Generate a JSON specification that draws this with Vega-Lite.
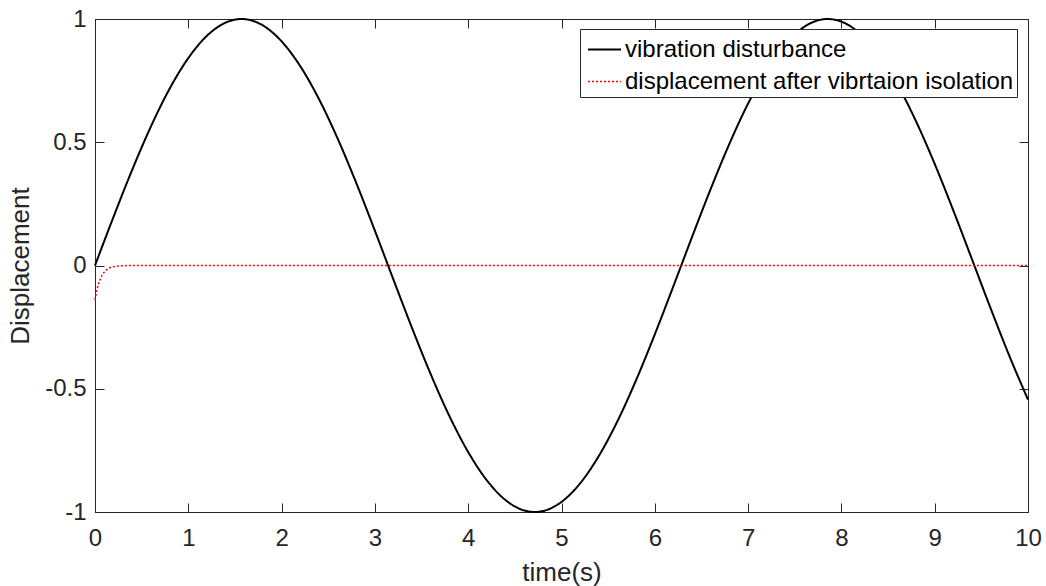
{
  "$schema": "https://vega.github.io/schema/vega-lite/v6.json",
  "autosize": {"type": "none"},
  "width": 933,
  "height": 493,
  "padding": {"left": 95, "top": 19, "right": 18, "bottom": 74},
  "background": "white",
  "config": {
    "view": {"stroke": "#262626", "strokeWidth": 1},
    "font": "Liberation Sans",
    "axis": {
      "grid": false,
      "domainColor": "#262626",
      "tickColor": "#262626",
      "labelColor": "#262626",
      "titleColor": "#262626",
      "labelFont": "Liberation Sans",
      "titleFont": "Liberation Sans",
      "labelFontSize": 24,
      "titleFontSize": 26,
      "titleFontWeight": "normal",
      "labelFlush": false,
      "labelOverlap": false,
      "domainWidth": 1,
      "tickWidth": 1
    },
    "legend": {
      "labelFont": "Liberation Sans",
      "labelFontSize": 24,
      "labelColor": "#000000"
    }
  },
  "data": {
    "values": [
      {"t": 0, "y": 0, "s": "vibration disturbance"},
      {"t": 0.2, "y": 0.1987, "s": "vibration disturbance"},
      {"t": 0.4, "y": 0.3894, "s": "vibration disturbance"},
      {"t": 0.6, "y": 0.5646, "s": "vibration disturbance"},
      {"t": 0.8, "y": 0.7174, "s": "vibration disturbance"},
      {"t": 1.0, "y": 0.8415, "s": "vibration disturbance"},
      {"t": 1.2, "y": 0.932, "s": "vibration disturbance"},
      {"t": 1.4, "y": 0.9854, "s": "vibration disturbance"},
      {"t": 1.57, "y": 1.0, "s": "vibration disturbance"},
      {"t": 1.8, "y": 0.9738, "s": "vibration disturbance"},
      {"t": 2.0, "y": 0.9093, "s": "vibration disturbance"},
      {"t": 2.2, "y": 0.8085, "s": "vibration disturbance"},
      {"t": 2.4, "y": 0.6755, "s": "vibration disturbance"},
      {"t": 2.6, "y": 0.5155, "s": "vibration disturbance"},
      {"t": 2.8, "y": 0.335, "s": "vibration disturbance"},
      {"t": 3.0, "y": 0.1411, "s": "vibration disturbance"},
      {"t": 3.2, "y": -0.0584, "s": "vibration disturbance"},
      {"t": 3.4, "y": -0.2555, "s": "vibration disturbance"},
      {"t": 3.6, "y": -0.4425, "s": "vibration disturbance"},
      {"t": 3.8, "y": -0.6119, "s": "vibration disturbance"},
      {"t": 4.0, "y": -0.7568, "s": "vibration disturbance"},
      {"t": 4.2, "y": -0.8716, "s": "vibration disturbance"},
      {"t": 4.4, "y": -0.9516, "s": "vibration disturbance"},
      {"t": 4.6, "y": -0.9937, "s": "vibration disturbance"},
      {"t": 4.71, "y": -1.0, "s": "vibration disturbance"},
      {"t": 4.8, "y": -0.9962, "s": "vibration disturbance"},
      {"t": 5.0, "y": -0.9589, "s": "vibration disturbance"},
      {"t": 5.2, "y": -0.8835, "s": "vibration disturbance"},
      {"t": 5.4, "y": -0.7728, "s": "vibration disturbance"},
      {"t": 5.6, "y": -0.6313, "s": "vibration disturbance"},
      {"t": 5.8, "y": -0.4646, "s": "vibration disturbance"},
      {"t": 6.0, "y": -0.2794, "s": "vibration disturbance"},
      {"t": 6.2, "y": -0.0831, "s": "vibration disturbance"},
      {"t": 6.4, "y": 0.1165, "s": "vibration disturbance"},
      {"t": 6.6, "y": 0.3115, "s": "vibration disturbance"},
      {"t": 6.8, "y": 0.4941, "s": "vibration disturbance"},
      {"t": 7.0, "y": 0.657, "s": "vibration disturbance"},
      {"t": 7.2, "y": 0.7937, "s": "vibration disturbance"},
      {"t": 7.4, "y": 0.8987, "s": "vibration disturbance"},
      {"t": 7.6, "y": 0.9679, "s": "vibration disturbance"},
      {"t": 7.85, "y": 1.0, "s": "vibration disturbance"},
      {"t": 8.0, "y": 0.9894, "s": "vibration disturbance"},
      {"t": 8.2, "y": 0.9407, "s": "vibration disturbance"},
      {"t": 8.4, "y": 0.8546, "s": "vibration disturbance"},
      {"t": 8.6, "y": 0.7344, "s": "vibration disturbance"},
      {"t": 8.8, "y": 0.5849, "s": "vibration disturbance"},
      {"t": 9.0, "y": 0.4121, "s": "vibration disturbance"},
      {"t": 9.2, "y": 0.2229, "s": "vibration disturbance"},
      {"t": 9.4, "y": 0.0248, "s": "vibration disturbance"},
      {"t": 9.6, "y": -0.1743, "s": "vibration disturbance"},
      {"t": 9.8, "y": -0.3665, "s": "vibration disturbance"},
      {"t": 10.0, "y": -0.544, "s": "vibration disturbance"},
      {"t": 0, "y": -0.14, "s": "displacement after vibrtaion isolation"},
      {"t": 0.02, "y": -0.1, "s": "displacement after vibrtaion isolation"},
      {"t": 0.04, "y": -0.072, "s": "displacement after vibrtaion isolation"},
      {"t": 0.06, "y": -0.052, "s": "displacement after vibrtaion isolation"},
      {"t": 0.08, "y": -0.037, "s": "displacement after vibrtaion isolation"},
      {"t": 0.1, "y": -0.027, "s": "displacement after vibrtaion isolation"},
      {"t": 0.13, "y": -0.016, "s": "displacement after vibrtaion isolation"},
      {"t": 0.16, "y": -0.009, "s": "displacement after vibrtaion isolation"},
      {"t": 0.2, "y": -0.005, "s": "displacement after vibrtaion isolation"},
      {"t": 0.25, "y": -0.002, "s": "displacement after vibrtaion isolation"},
      {"t": 0.3, "y": -0.001, "s": "displacement after vibrtaion isolation"},
      {"t": 0.4, "y": 0, "s": "displacement after vibrtaion isolation"},
      {"t": 1, "y": 0, "s": "displacement after vibrtaion isolation"},
      {"t": 2, "y": 0, "s": "displacement after vibrtaion isolation"},
      {"t": 3, "y": 0, "s": "displacement after vibrtaion isolation"},
      {"t": 4, "y": 0, "s": "displacement after vibrtaion isolation"},
      {"t": 5, "y": 0, "s": "displacement after vibrtaion isolation"},
      {"t": 6, "y": 0, "s": "displacement after vibrtaion isolation"},
      {"t": 7, "y": 0, "s": "displacement after vibrtaion isolation"},
      {"t": 8, "y": 0, "s": "displacement after vibrtaion isolation"},
      {"t": 9, "y": 0, "s": "displacement after vibrtaion isolation"},
      {"t": 10, "y": 0, "s": "displacement after vibrtaion isolation"}
    ]
  },
  "layer": [
    {
      "mark": {"type": "line", "interpolate": "monotone"},
      "encoding": {
        "x": {
          "field": "t", "type": "quantitative",
          "scale": {"domain": [0, 10], "nice": false, "zero": false},
          "axis": {"values": [0,1,2,3,4,5,6,7,8,9,10], "title": "time(s)", "ticks": false, "labelPadding": 14, "titlePadding": 9, "orient": "bottom"}
        },
        "y": {
          "field": "y", "type": "quantitative",
          "scale": {"domain": [-1, 1], "nice": false, "zero": false},
          "axis": {"values": [-1, -0.5, 0, 0.5, 1], "title": "Displacement", "ticks": false, "labelPadding": 9, "titlePadding": 11, "orient": "left",
                   "format": "~g", "labelExpr": "replace(datum.label, '\u2212', '-')"}
        },
        "color": {
          "field": "s", "type": "nominal", "title": null,
          "scale": {"domain": ["vibration disturbance", "displacement after vibrtaion isolation"], "range": ["#000000", "#ff0000"]},
          "legend": {"orient": "none", "legendX": 485, "legendY": 10, "symbolType": "stroke", "symbolSize": 1089,
                     "strokeColor": "#262626", "fillColor": "white", "padding": 3, "symbolOffset": 4, "rowPadding": 2, "labelOffset": 3, "labelLimit": 600}
        },
        "strokeDash": {
          "field": "s", "type": "nominal", "title": null,
          "scale": {"domain": ["vibration disturbance", "displacement after vibrtaion isolation"], "range": [[1, 0], [2, 2]]}
        },
        "strokeWidth": {
          "field": "s", "type": "nominal", "title": null,
          "scale": {"domain": ["vibration disturbance", "displacement after vibrtaion isolation"], "range": [2, 1.5]}
        }
      }
    },
    {
      "mark": {"type": "line", "opacity": 0},
      "encoding": {
        "x": {
          "field": "t", "type": "quantitative",
          "axis": {"values": [0,1,2,3,4,5,6,7,8,9,10], "title": null, "labels": false, "domain": false, "tickSize": 9, "offset": -9, "orient": "top"}
        },
        "y": {
          "field": "y", "type": "quantitative",
          "axis": {"values": [-1, -0.5, 0, 0.5, 1], "title": null, "labels": false, "domain": false, "tickSize": 9, "offset": -9, "orient": "right"}
        }
      }
    },
    {
      "mark": {"type": "line", "opacity": 0},
      "encoding": {
        "x": {
          "field": "t", "type": "quantitative",
          "axis": {"values": [0,1,2,3,4,5,6,7,8,9,10], "title": null, "labels": false, "domain": false, "tickSize": 9, "offset": -9, "orient": "bottom"}
        },
        "y": {
          "field": "y", "type": "quantitative",
          "axis": {"values": [-1, -0.5, 0, 0.5, 1], "title": null, "labels": false, "domain": false, "tickSize": 9, "offset": -9, "orient": "left"}
        }
      }
    }
  ],
  "resolve": {"axis": {"x": "independent", "y": "independent"}}
}
